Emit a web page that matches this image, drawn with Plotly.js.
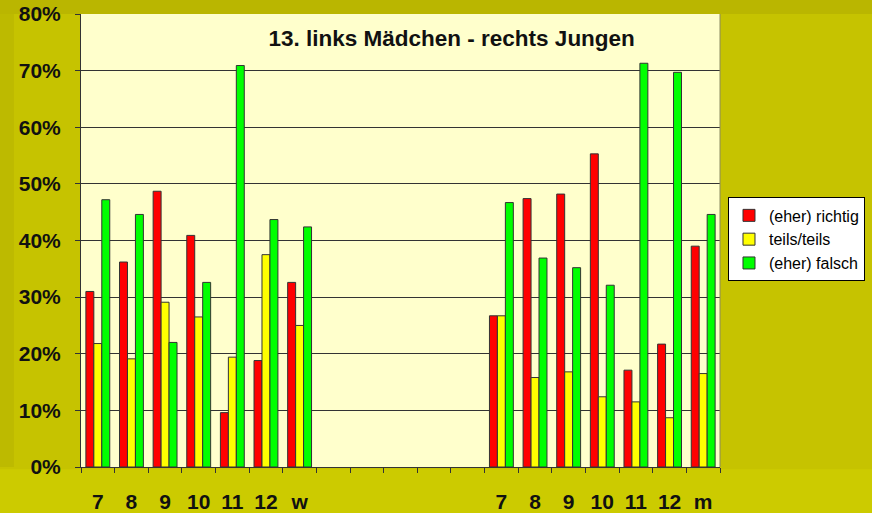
<!DOCTYPE html>
<html><head><meta charset="utf-8">
<script src="https://cdn.plot.ly/plotly-3.0.1.min.js"></script>
<style>html,body{margin:0;padding:0;}#chart{width:872px;height:513px;}</style>
</head><body><div id="chart"></div>
<script>
// Categories (left: Mädchen, right: Jungen), with blank spacer slots between groups
const girlsLabels = ['7','8','9','10','11','12','w'];
const boysLabels  = ['7','8','9','10','11','12','m'];
const blankCount = 5;

// Values in percent
const girlsRichtig = [31.0, 36.2, 48.7, 40.9, 9.6, 18.8, 32.6];
const girlsTeils   = [21.8, 19.1, 29.1, 26.5, 19.4, 37.5, 25.0];
const girlsFalsch  = [47.2, 44.6, 22.0, 32.6, 70.9, 43.7, 42.4];

const boysRichtig = [26.7, 47.4, 48.2, 55.3, 17.1, 21.7, 39.0];
const boysTeils   = [26.7, 15.8, 16.8, 12.4, 11.5, 8.7, 16.5];
const boysFalsch  = [46.7, 36.9, 35.2, 32.1, 71.3, 69.7, 44.6];

const seriesNames = ['(eher) richtig', 'teils/teils', '(eher) falsch'];
const seriesColors = ['#ff0000', '#ffff00', '#00ff00'];

// Build unique category keys (zero-width suffix keeps right group distinct)
const blanks = [];
for (let i = 1; i <= blankCount; i++) blanks.push('\u00a0'.repeat(i));
const cats = girlsLabels.concat(blanks, boysLabels.map(s => s + '\u200b'));
const gap = blanks.map(() => null);

const ys = [
  girlsRichtig.concat(gap, boysRichtig),
  girlsTeils.concat(gap, boysTeils),
  girlsFalsch.concat(gap, boysFalsch)
].map(a => a.map(v => v === null ? null : v / 100));

const traces = ys.map((y, i) => ({
  type: 'bar', x: cats, y: y, name: seriesNames[i],
  marker: {color: seriesColors[i], line: {color: '#333333', width: 1}},
  hoverinfo: 'skip'
}));

const F = 'Arial, "Liberation Sans", sans-serif';
const layout = {
  width: 872, height: 513,
  paper_bgcolor: '#c6c300',
  plot_bgcolor: '#ffffcc',
  margin: {l: 81, r: 152, t: 13.5, b: 46.3, pad: 0, autoexpand: false},
  barmode: 'group', bargap: 0.29, bargroupgap: 0,
  showlegend: true,
  title: {text: '13. links Mädchen - rechts Jungen', x: 0.518, xanchor: 'center',
          y: 1 - 38/513, yanchor: 'middle', yref: 'container',
          font: {family: F, size: 22.5, weight: 'bold', color: '#111111'}},
  xaxis: {type: 'category', categoryorder: 'array', categoryarray: cats,
          tickson: 'boundaries', ticks: 'outside', ticklen: 5, tickcolor: '#333333',
          showline: true, linecolor: '#333333', linewidth: 1, mirror: false,
          showgrid: false, ticklabelstandoff: 16, tickangle: 0, automargin: false,
          tickfont: {family: F, size: 21, weight: 'bold', color: '#111111'}},
  yaxis: {range: [0, 0.8], tickvals: [0,0.1,0.2,0.3,0.4,0.5,0.6,0.7,0.8], tickformat: '.0%',
          ticks: 'outside', ticklen: 5, tickcolor: '#333333',
          showline: true, linecolor: '#333333', linewidth: 1,
          showgrid: true, gridcolor: '#333333', gridwidth: 1, zeroline: false,
          ticklabelstandoff: 10, automargin: false,
          tickfont: {family: F, size: 21, weight: 'bold', color: '#111111'}},
  legend: {x: 1.0125, xanchor: 'left', y: 0.595, yanchor: 'top',
           bgcolor: '#ffffff', bordercolor: '#000000', borderwidth: 1,
           font: {family: F, size: 16, color: '#000000'}, traceorder: 'normal'},
  shapes: [
    {type: 'rect', xref: 'paper', yref: 'paper', x0: -0.2, x1: 1.3, y0: 1, y1: 1.05,
     fillcolor: '#bab600', line: {width: 0}, layer: 'below'},
    {type: 'rect', xref: 'paper', yref: 'paper', x0: -0.2, x1: 1.3, y0: -0.2, y1: -0.005,
     fillcolor: '#cccb00', line: {width: 0}, layer: 'below'},
    {type: 'rect', xref: 'paper', yref: 'paper', x0: -0.13, x1: -0.105, y0: 0, y1: 1,
     fillcolor: '#bdba00', line: {width: 0}, layer: 'below'},
    {type: 'line', xref: 'paper', yref: 'paper', x0: 1, x1: 1, y0: 0, y1: 1,
     line: {color: '#8a8a60', width: 1}}
  ]
};
Plotly.newPlot('chart', traces, layout, {displayModeBar: false, staticPlot: true});
</script></body></html>
